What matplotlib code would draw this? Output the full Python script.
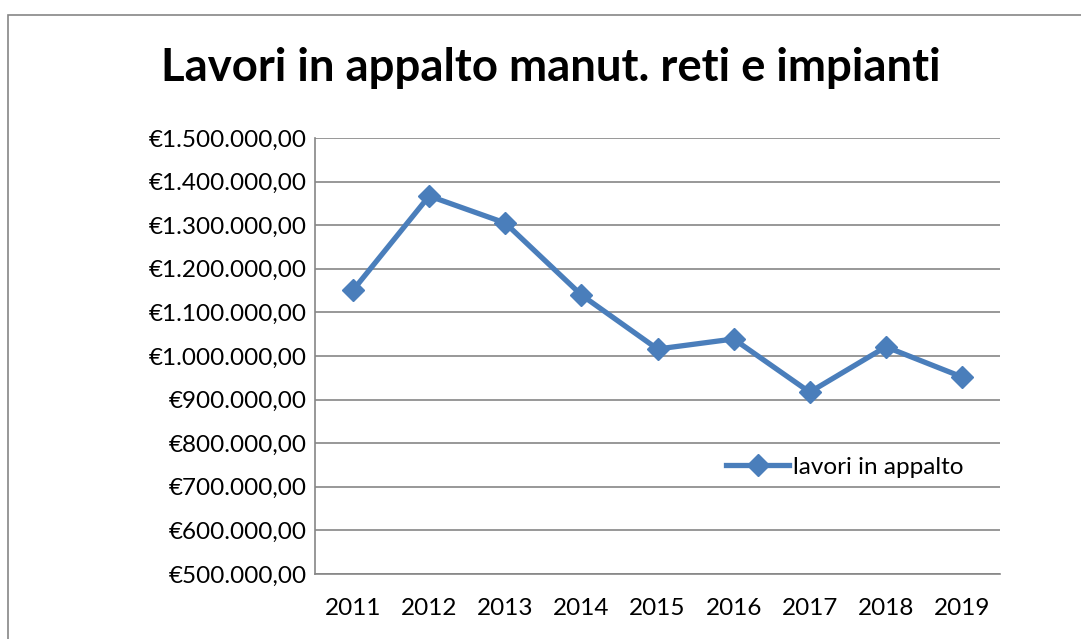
import matplotlib
matplotlib.use('Agg')
import matplotlib.pyplot as plt
from matplotlib.ticker import FuncFormatter
from matplotlib.patches import Rectangle

years = ['2011', '2012', '2013', '2014', '2015', '2016', '2017', '2018', '2019']
lavori = [1151000, 1367000, 1305000, 1140000, 1016000, 1039000, 917000, 1021000, 952000]
yticks = [500000, 600000, 700000, 800000, 900000, 1000000, 1100000, 1200000, 1300000, 1400000, 1500000]

plt.rcParams['font.family'] = ['Lato', 'DejaVu Sans']

W, H = 1081, 639
fig = plt.figure(figsize=(W / 100, H / 100), dpi=100)
# outer chart frame (cut at right and bottom like the original)
fig.patches.append(Rectangle((8 / W, -0.05), 1.1, 1 - 15 / H + 0.05, transform=fig.transFigure,
                             fill=False, edgecolor='#868686', linewidth=1.2))

ax = fig.add_axes([315 / W, 1 - 574 / H, (1000 - 315) / W, (574 - 138) / H])
x = list(range(len(years)))
ax.plot(x, lavori, color='#4A7EBB', linewidth=3.8, marker='D', markersize=11,
        label='lavori in appalto')

ax.set_xlim(-0.5, len(years) - 0.5)
ax.set_ylim(500000, 1500000)
ax.set_yticks(yticks)
ax.yaxis.set_major_formatter(FuncFormatter(
    lambda v, p: '€' + '{:,.2f}'.format(v).replace(',', 'X').replace('.', ',').replace('X', '.')))
ax.set_xticks(x)
ax.set_xticklabels(years)
ax.grid(axis='y', color='#868686', linewidth=1.2)
ax.set_axisbelow(True)
for s in ['top', 'right']:
    ax.spines[s].set_visible(False)
for s in ['left', 'bottom']:
    ax.spines[s].set_color('#868686')
    ax.spines[s].set_linewidth(1.2)
ax.tick_params(axis='both', length=0, labelsize=17.5, colors='black')
ax.tick_params(axis='y', pad=6)
ax.tick_params(axis='x', pad=17)

leg = ax.legend(loc='center left', bbox_to_anchor=(0.568, 0.245), frameon=False,
                fontsize=17.5, handlelength=2.6, handletextpad=0.15)

fig.text(551 / W, 1 - 68 / H, 'Lavori in appalto manut. reti e impianti',
         ha='center', va='center', fontsize=32.8, fontweight='bold')

fig.savefig('out.png', dpi=100)
